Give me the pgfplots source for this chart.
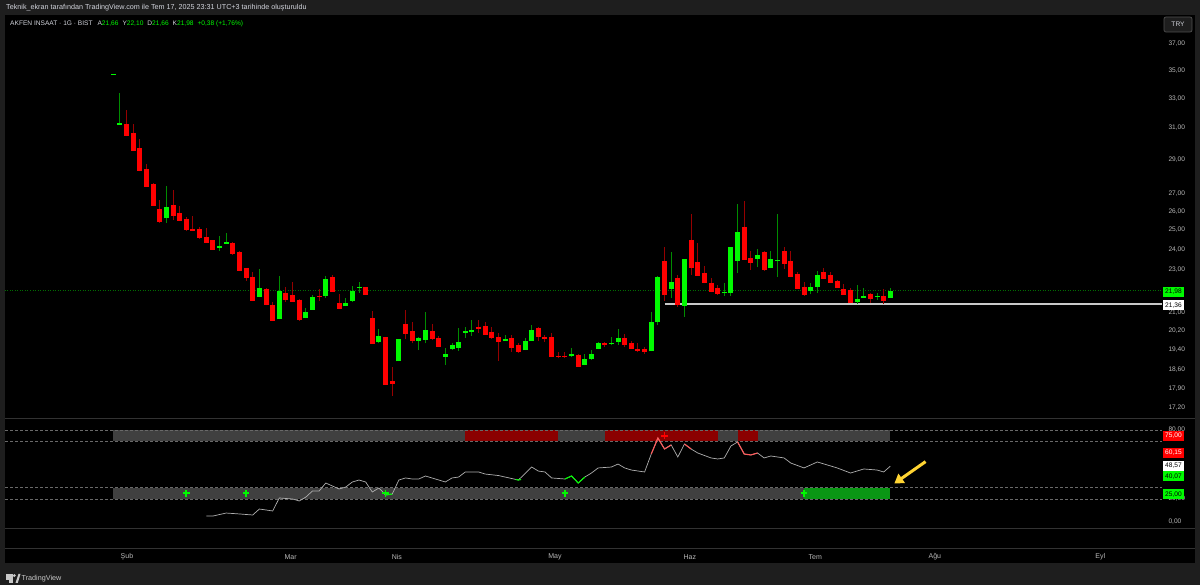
\documentclass[border=0pt]{standalone}
\usepackage{fontspec}
\setmainfont{Liberation Sans}
\usepackage{pgfplots}
\usepackage{pgfplotstable}
\pgfplotsset{compat=1.18}
\usetikzlibrary{arrows.meta}

\definecolor{frame}{RGB}{30,30,30}
\definecolor{sep}{RGB}{50,50,50}
\definecolor{txt}{RGB}{185,185,185}
\definecolor{hdr}{RGB}{210,212,220}
\definecolor{up}{RGB}{0,250,0}
\definecolor{dn}{RGB}{255,0,0}
\definecolor{upw}{RGB}{0,140,0}
\definecolor{dnw}{RGB}{150,0,0}
\definecolor{bandgray}{RGB}{64,64,64}
\definecolor{bandred}{RGB}{139,0,0}
\definecolor{bandgreen}{RGB}{10,150,20}
\definecolor{oscline}{RGB}{175,175,175}
\definecolor{oscred}{RGB}{255,90,90}
\definecolor{arrowy}{RGB}{255,212,50}
\definecolor{dotgreen}{RGB}{0,110,0}
\definecolor{whiteline}{RGB}{200,200,200}
\definecolor{dashgray}{RGB}{105,105,105}
\definecolor{btnborder}{RGB}{80,80,80}
\definecolor{logo}{RGB}{200,200,200}

\pgfplotstableread{
i o h l c
0 34.69 34.73 34.69 34.73
1 31.21 33.37 31.21 31.30
2 31.26 32.19 30.45 30.45
3 30.67 31.26 29.54 29.54
4 29.69 30.28 28.28 28.28
5 28.42 28.73 27.38 27.38
6 27.54 27.58 26.31 26.31
7 26.11 26.62 25.38 25.43
8 25.61 27.42 25.38 26.24
9 26.33 27.19 25.52 25.74
10 25.91 26.31 25.48 25.48
11 25.59 25.67 24.94 24.99
12 25.06 25.76 24.95 24.95
13 25.04 25.17 24.52 24.56
14 24.63 25.08 24.32 24.32
15 24.45 24.48 23.96 23.98
16 24.08 24.68 23.93 24.18
17 24.28 24.83 24.28 24.37
18 24.33 24.37 23.71 23.75
19 23.86 23.93 22.92 22.92
20 23.07 23.08 22.44 22.60
21 22.65 22.86 21.52 21.52
22 21.71 23.02 21.68 22.11
23 22.08 22.11 21.32 21.32
24 21.34 21.48 20.64 20.64
25 20.70 22.68 20.70 21.97
26 21.88 22.18 21.48 21.56
27 21.78 22.40 21.48 21.48
28 21.57 21.60 20.63 20.66
29 20.76 21.21 20.74 21.04
30 21.12 21.78 21.12 21.71
31 21.74 22.05 21.53 21.68
32 21.76 22.70 21.67 22.54
33 22.62 22.73 21.94 21.94
34 21.42 21.84 21.15 21.15
35 21.27 21.64 21.27 21.42
36 21.53 22.21 21.46 21.99
37 22.14 22.40 21.90 22.17
38 22.15 22.15 21.80 21.80
39 20.74 21.07 19.66 19.66
40 19.73 20.28 19.68 19.98
41 19.93 19.93 18.03 18.03
42 18.17 18.71 17.62 18.06
43 18.94 19.85 18.94 19.85
44 20.50 21.11 19.85 20.08
45 20.18 20.58 19.68 19.77
46 19.78 19.95 19.40 19.90
47 19.82 21.01 19.68 20.23
48 20.18 20.50 19.81 19.84
49 19.88 19.98 19.52 19.52
50 19.12 19.47 18.79 19.26
51 19.43 19.68 19.40 19.60
52 19.49 20.31 19.37 19.72
53 20.11 20.38 19.91 20.20
54 20.15 20.67 20.00 20.24
55 20.38 20.67 20.10 20.27
56 20.40 20.58 20.04 20.04
57 20.17 20.38 19.85 19.91
58 19.94 20.10 18.96 19.74
59 19.77 20.01 19.77 19.84
60 19.88 20.01 19.33 19.48
61 19.60 19.68 19.29 19.32
62 19.39 19.91 19.39 19.78
63 19.77 20.44 19.77 20.24
64 20.34 20.38 19.76 19.93
65 19.94 20.02 19.74 19.87
66 19.94 20.10 19.12 19.12
67 19.18 19.33 19.06 19.14
68 19.17 19.32 19.06 19.11
69 19.15 19.47 19.11 19.26
70 19.21 19.26 18.73 18.73
71 18.81 19.24 18.78 19.03
72 19.03 19.40 18.99 19.26
73 19.44 19.72 19.43 19.68
74 19.69 19.72 19.54 19.62
75 19.66 19.95 19.60 19.70
76 19.74 20.28 19.60 19.90
77 19.91 20.06 19.51 19.59
78 19.68 19.77 19.44 19.44
79 19.45 19.68 19.31 19.36
80 19.45 19.54 19.26 19.31
81 19.35 21.02 19.35 20.58
82 20.57 22.68 20.45 22.65
83 23.41 24.13 21.52 21.79
84 22.08 23.83 21.64 22.40
85 22.60 22.73 21.26 21.34
86 21.29 23.51 20.81 23.51
87 24.47 25.83 22.73 23.05
88 23.35 24.30 22.70 22.70
89 22.83 23.17 22.33 22.33
90 22.36 22.57 21.91 21.91
91 22.13 22.26 21.78 21.82
92 21.87 22.33 21.74 21.94
93 21.87 24.13 21.74 24.10
94 23.43 26.40 22.84 24.90
95 25.13 26.58 23.46 23.46
96 23.55 23.88 22.97 23.30
97 23.50 23.99 23.13 23.71
98 23.85 23.91 22.92 22.97
99 23.05 23.91 23.05 23.51
100 23.40 25.83 22.65 23.44
101 23.91 24.10 23.03 23.26
102 23.40 23.93 22.62 22.62
103 22.79 22.89 22.07 22.07
104 22.15 22.38 21.76 21.79
105 21.97 22.33 21.82 22.16
106 22.18 22.92 21.87 22.73
107 22.87 23.08 22.54 22.54
108 22.73 22.86 22.33 22.35
109 22.44 22.49 22.13 22.13
110 22.05 22.30 21.79 21.79
111 22.03 22.10 21.42 21.42
112 21.46 22.26 21.37 21.60
113 21.64 22.13 21.64 21.74
114 21.84 21.87 21.44 21.59
115 21.71 21.87 21.56 21.74
116 21.74 22.05 21.38 21.53
117 21.66 22.10 21.66 21.98
}\ohlc

\pgfplotstableread{
i v
14 5.2
15 5.2
17 7.8
19 7.0
21 6.1
22 11.3
24 9.6
25 20.9
27 20.0
28 18.3
29 21.7
30 27.0
31 27.0
32 33.9
34 28.7
35 30.4
36 34.8
37 36.5
38 34.8
39 26.1
40 29.6
41 23.5
42 24.3
43 36.5
44 38.3
45 37.4
46 37.4
47 40.0
50 34.8
51 38.3
52 39.1
53 43.5
55 43.5
56 41.7
58 40.4
61 36.5
63 47.8
64 44.3
65 43.5
66 38.3
68 37.4
69 40.0
70 33.9
71 39.1
72 42.6
73 47.0
75 47.8
76 50.4
77 47.0
78 45.2
80 43.5
81 59.1
82 73.0
83 63.5
84 67.0
85 56.5
86 67.8
87 63.5
88 60.0
90 55.7
91 54.8
92 55.7
93 66.1
94 69.6
95 59.1
96 58.3
97 60.0
98 55.7
99 57.4
101 55.7
102 51.3
104 47.0
106 52.2
109 47.0
111 42.6
113 46.1
115 45.2
116 43.5
117 48.57
}\osc

\newcommand{\tf}{\fontsize{6.6}{7.5}\selectfont}
\tikzset{valbox/.style={anchor=west, font=\tf, inner xsep=2pt, inner ysep=1.5pt, minimum height=10pt}}

\begin{document}
\begin{tikzpicture}
% frame and panels
\fill[frame] (0pt,0pt) rectangle (1200pt,585pt);
\fill[black] (5pt,22pt) rectangle (1195pt,570pt);
\draw[sep, line width=0.8pt] (5pt,167pt) -- (1195pt,167pt);
\draw[sep, line width=0.8pt] (5pt,57pt) -- (1195pt,57pt);
\draw[sep, line width=0.8pt] (5pt,37pt) -- (1195pt,37pt);

% ---------------- main price panel ----------------
\begin{axis}[
  at={(5pt,167pt)}, anchor=south west, scale only axis,
  width=1157pt, height=403pt,
  xmin=-16.3, xmax=157.9,
  ymode=log, ymin=16.81, ymax=39.33,
  axis line style={draw=none}, major tick length=0pt,
  xtick=\empty,
  ytick={37,35,33,31,29,27,26,25,24,23,21,20.2,19.4,18.6,17.9,17.2},
  yticklabels={{37,00},{35,00},{33,00},{31,00},{29,00},{27,00},{26,00},{25,00},{24,00},{23,00},{21,00},{20,20},{19,40},{18,60},{17,90},{17,20}},
  yticklabel pos=right,
  yticklabel style={font=\tf, text=txt, anchor=west, xshift=3pt},
  clip=false,
  candle wick/.style={line width=1pt},
  candle body/.style={line width=5pt, line cap=butt},
  wickup/.style={draw=upw}, wickdn/.style={draw=dnw},
  bodyup/.style={draw=up}, bodydn/.style={draw=dn},
]
\addplot[dotgreen, line width=0.8pt, dash pattern=on 1pt off 1.5pt] coordinates {(-16.3,21.98) (157.9,21.98)};
\addplot[whiteline, line width=2pt] coordinates {(83,21.36) (157.9,21.36)};
\pgfplotstablegetrowsof{\ohlc}
\pgfmathtruncatemacro\nrows{\pgfplotsretval-1}
\pgfplotsforeachungrouped \k in {0,...,\nrows}{%
  \pgfplotstablegetelem{\k}{o}\of\ohlc \let\cO\pgfplotsretval
  \pgfplotstablegetelem{\k}{h}\of\ohlc \let\cH\pgfplotsretval
  \pgfplotstablegetelem{\k}{l}\of\ohlc \let\cL\pgfplotsretval
  \pgfplotstablegetelem{\k}{c}\of\ohlc \let\cC\pgfplotsretval
  \pgfmathtruncatemacro\isup{\cC>=\cO}%
  \ifnum\isup=1 \def\wc{wickup}\def\bc{bodyup}\else\def\wc{wickdn}\def\bc{bodydn}\fi
  \edef\tmp{\noexpand\addplot[candle wick,\wc] coordinates {(\k,\cL) (\k,\cH)};
    \noexpand\addplot[candle body,\bc] coordinates {(\k,\cO) (\k,\cC)};}%
  \tmp
}
\end{axis}

% ---------------- oscillator panel ----------------
\begin{axis}[
  at={(5pt,57pt)}, anchor=south west, scale only axis,
  width=1157pt, height=109.5pt,
  xmin=-16.3, xmax=157.9,
  ymin=-5.2, ymax=90,
  axis line style={draw=none}, major tick length=0pt,
  ytick={0,20,80},
  yticklabels={{0,00},{20,00},{80,00}},
  yticklabel pos=right,
  yticklabel style={font=\tf, text=txt, anchor=west, xshift=3pt},
  xtick={2.06,26.7,42.7,66.5,86.8,105.7,123.7,148.6},
  xticklabels={Şub,Mar,Nis,May,Haz,Tem,Ağu,Eyl},
  xticklabel style={font=\fontsize{7}{8}\selectfont, text=txt, anchor=center, yshift=-29pt},
  clip=false,
]
% bands
\addplot[fill=bandgray, draw=none] coordinates {(0,70) (53,70) (53,80) (0,80)};
\addplot[fill=bandred, draw=none] coordinates {(53,70) (67,70) (67,80) (53,80)};
\addplot[fill=bandgray, draw=none] coordinates {(67,70) (74,70) (74,80) (67,80)};
\addplot[fill=bandred, draw=none] coordinates {(74,70) (91,70) (91,80) (74,80)};
\addplot[fill=bandgray, draw=none] coordinates {(91,70) (94,70) (94,80) (91,80)};
\addplot[fill=bandred, draw=none] coordinates {(94,70) (97,70) (97,80) (94,80)};
\addplot[fill=bandgray, draw=none] coordinates {(97,70) (117,70) (117,80) (97,80)};
\addplot[fill=bandgray, draw=none] coordinates {(0,20) (104,20) (104,30) (0,30)};
\addplot[fill=bandgreen, draw=none] coordinates {(104,20) (117,20) (117,30) (104,30)};
% dashed levels
\addplot[dashgray, line width=0.6pt, dash pattern=on 2.5pt off 2.5pt] coordinates {(-16.3,80) (157.9,80)};
\addplot[dashgray, line width=0.6pt, dash pattern=on 2.5pt off 2.5pt] coordinates {(-16.3,70) (157.9,70)};
\addplot[dashgray, line width=0.6pt, dash pattern=on 2.5pt off 2.5pt] coordinates {(-16.3,30) (157.9,30)};
\addplot[dashgray, line width=0.6pt, dash pattern=on 2.5pt off 2.5pt] coordinates {(-16.3,20) (157.9,20)};
% oscillator line
\addplot[oscline, line width=0.7pt] table[x=i, y=v] {\osc};
\addplot[up, line width=1.1pt] coordinates {(41,23.5) (42,24.3)};
\addplot[up, line width=1.1pt] coordinates {(60.6,37.0) (61,36.5) (61.4,37.0)};
\addplot[up, line width=1.1pt] coordinates {(68,37.4) (69,40.0) (70,33.9) (71,39.1)};
\addplot[oscred, line width=1.1pt] coordinates {(81,59.1) (82,73.0) (83,63.5) (84,67.0)};
\addplot[oscred, line width=1.1pt] coordinates {(86,67.8) (87,63.5)};
\addplot[oscred, line width=1.1pt] coordinates {(94,69.6) (95,59.1) (96,58.3) (97,60.0)};
% signal crosses
\addplot[only marks, mark=+, mark size=3.3pt, line width=1.8pt, color=up] coordinates {(11,25) (20,25) (41,25) (68,25) (104,25)};
\addplot[only marks, mark=+, mark size=3.3pt, line width=1.8pt, color=dn] coordinates {(83,75)};
% annotation arrow
\draw[arrowy, line width=3pt, -{Triangle[length=9pt,width=11pt]}] (axis cs:122.3,52.5) -- (axis cs:117.6,33.5);
\end{axis}

% value boxes on the price scale
\node[valbox, fill=up, text=black] at (1163pt,293pt) {21,98};
\node[valbox, fill=white, text=black] at (1163pt,279.5pt) {21,36};
\node[valbox, fill=dn, text=white] at (1163pt,149pt) {75,00};
\node[valbox, fill=dn, text=white] at (1163pt,132pt) {60,15};
\node[valbox, fill=white, text=black] at (1163pt,119pt) {48,57};
\node[valbox, fill=up, text=black] at (1163pt,108.5pt) {40,07};
\node[valbox, fill=up, text=black] at (1163pt,90.5pt) {25,00};

% header texts
\node[anchor=west, text=hdr, font=\fontsize{7.2}{8}\selectfont, inner sep=0pt] at (6pt,577pt) {Teknik\_ekran tarafından TradingView.com ile Tem 17, 2025 23:31 UTC+3 tarihinde oluşturuldu};
\node[anchor=west, font=\tf, inner sep=0pt] at (10pt,561pt) {\textcolor{hdr}{AKFEN INSAAT · 1G · BIST}\hspace{5pt}\textcolor{hdr}{A}\textcolor{up}{21,66}\hspace{4pt}\textcolor{hdr}{Y}\textcolor{up}{22,10}\hspace{4pt}\textcolor{hdr}{D}\textcolor{up}{21,66}\hspace{4pt}\textcolor{hdr}{K}\textcolor{up}{21,98}\hspace{4pt}\textcolor{up}{+0,38 (+1,76\%)}};
% TRY button
\draw[btnborder, fill=frame, rounded corners=2pt, line width=0.7pt] (1164pt,553pt) rectangle (1192pt,568pt);
\node[text=hdr, font=\tf] at (1178pt,560.5pt) {TRY};
% footer logo
\fill[logo] (6pt,5pt) rectangle (12.5pt,11pt);
\fill[logo] (9pt,1.5pt) rectangle (12.5pt,5pt);
\fill[logo] (14.3pt,9.4pt) circle (1.6pt);
\fill[logo] (15.5pt,2pt) -- (18.5pt,11pt) -- (20.5pt,11pt) -- (17.8pt,2pt) -- cycle;
\node[anchor=west, text=logo, font=\fontsize{7.2}{8}\selectfont, inner sep=0pt] at (21.5pt,6.5pt) {TradingView};
\end{tikzpicture}
\end{document}
